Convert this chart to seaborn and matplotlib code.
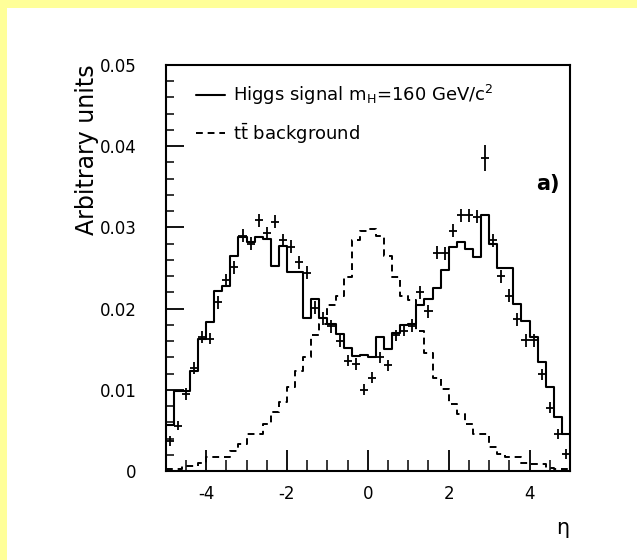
import numpy as np
import pandas as pd
import matplotlib
matplotlib.use("Agg")
import matplotlib.pyplot as plt
import seaborn as sns
from matplotlib.patches import Rectangle
from matplotlib.lines import Line2D
from matplotlib.ticker import MultipleLocator

# ---------------- data ----------------
eta_min, eta_max, n_bins = -5.0, 5.0, 50

signal_hist = [
    0.0057, 0.0099, 0.0099, 0.0123, 0.0163, 0.0183, 0.0222, 0.0228, 0.0265, 0.0288,
    0.0282, 0.0288, 0.0286, 0.0253, 0.0277, 0.0245, 0.0245, 0.0189, 0.0212, 0.0188,
    0.0181, 0.0169, 0.0152, 0.0142, 0.0143, 0.0141, 0.0165, 0.0150, 0.0170, 0.0180,
    0.0181, 0.0205, 0.0212, 0.0225, 0.0247, 0.0276, 0.0282, 0.0273, 0.0264, 0.0315,
    0.0280, 0.0250, 0.0250, 0.0206, 0.0185, 0.0165, 0.0134, 0.0103, 0.0067, 0.0046,
]

background_hist = [
    0.0003, 0.0003, 0.0006, 0.0006, 0.0010, 0.0017, 0.0017, 0.0017, 0.0025, 0.0033,
    0.0046, 0.0046, 0.0058, 0.0073, 0.0085, 0.0103, 0.0123, 0.0140, 0.0167, 0.0181,
    0.0205, 0.0216, 0.0239, 0.0284, 0.0296, 0.0298, 0.0290, 0.0265, 0.0239, 0.0215,
    0.0210, 0.0173, 0.0145, 0.0115, 0.0101, 0.0083, 0.0070, 0.0058, 0.0046, 0.0046,
    0.0029, 0.0021, 0.0017, 0.0017, 0.0010, 0.0009, 0.0009, 0.0004, 0.0002, 0.0002,
]

data_points = [
    0.0037, 0.0056, 0.0095, 0.0127, 0.0165, 0.0163, 0.0208, 0.0235, 0.0251, 0.0290,
    0.0280, 0.0309, 0.0293, 0.0307, 0.0284, 0.0276, 0.0257, 0.0244, 0.0201, 0.0188,
    0.0178, 0.0160, 0.0136, 0.0132, 0.0100, 0.0115, 0.0140, 0.0130, 0.0167, 0.0173,
    0.0179, 0.0220, 0.0197, 0.0269, 0.0268, 0.0296, 0.0315, 0.0315, 0.0313, 0.0385,
    0.0284, 0.0240, 0.0216, 0.0187, 0.0161, 0.0161, 0.0119, 0.0078, 0.0046, 0.0021,
]

data_errors = [
    0.0006, 0.0006, 0.0007, 0.0007, 0.0007, 0.0007, 0.0008, 0.0008, 0.0008, 0.0008,
    0.0008, 0.0008, 0.0008, 0.0008, 0.0008, 0.0008, 0.0008, 0.0008, 0.0008, 0.0008,
    0.0008, 0.0007, 0.0007, 0.0007, 0.0007, 0.0007, 0.0007, 0.0007, 0.0007, 0.0007,
    0.0008, 0.0008, 0.0008, 0.0008, 0.0008, 0.0008, 0.0008, 0.0008, 0.0008, 0.0016,
    0.0008, 0.0008, 0.0008, 0.0008, 0.0008, 0.0008, 0.0007, 0.0007, 0.0006, 0.0006,
]

x_tick_values = [-4, -2, 0, 2, 4]
x_tick_labels = ["-4", "-2", "0", "2", "4"]
y_tick_values = [0, 0.01, 0.02, 0.03, 0.04, 0.05]
y_tick_labels = ["0", "0.01", "0.02", "0.03", "0.04", "0.05"]

legend_labels = ["Higgs signal m$_H$=160 GeV/c$^2$", "t$\\bar{\\mathrm{t}}$ background"]
y_label = "Arbitrary units"
x_label = "η"
panel_tag = "a)"

# ---------------- figure ----------------
sns.set_theme(style="white")
plt.rcParams["font.family"] = ["DejaVu Sans"]
plt.rcParams["mathtext.default"] = "regular"
plt.rcParams["text.color"] = "black"
plt.rcParams["xtick.color"] = "black"
plt.rcParams["ytick.color"] = "black"

W, H = 637, 560
fig = plt.figure(figsize=(W / 100, H / 100), dpi=100, facecolor="#FFFF99")
fig.patches.append(Rectangle((7 / W, 0), 1 - 7 / W, 1 - 8 / H, transform=fig.transFigure,
                             facecolor="white", edgecolor="none", zorder=-10))

ax_l, ax_r, ax_t, ax_b = 165.7, 570.0, 65.0, 471.0
ax = fig.add_axes([ax_l / W, 1 - ax_b / H, (ax_r - ax_l) / W, (ax_b - ax_t) / H])
ax.set_facecolor("none")
ax.set_zorder(5)

edges = np.linspace(eta_min, eta_max, n_bins + 1)
centers = 0.5 * (edges[:-1] + edges[1:])
half_width = 0.5 * (edges[1] - edges[0])
df = pd.DataFrame({"eta": centers, "signal": signal_hist, "background": background_hist,
                   "data": data_points, "err": data_errors})

sns.histplot(data=df, x="eta", weights="signal", bins=n_bins, binrange=(eta_min, eta_max),
             element="step", fill=False, color="black", linewidth=1.5, ax=ax)
sns.histplot(data=df, x="eta", weights="background", bins=n_bins, binrange=(eta_min, eta_max),
             element="step", fill=False, color="black", linewidth=1.4,
             linestyle=(0, (3.5, 2.5)), ax=ax)
ax.errorbar(df["eta"], df["data"], yerr=df["err"], xerr=half_width, fmt="none",
            ecolor="black", elinewidth=1.3, capsize=0)

ax.set_xlim(eta_min, eta_max)
ax.set_ylim(0, 0.05)
ax.set_xlabel("")
ax.set_ylabel("")

ax.set_xticks(x_tick_values)
ax.set_xticklabels(x_tick_labels, fontsize=12)
ax.set_yticks(y_tick_values)
ax.set_yticklabels(y_tick_labels, fontsize=12)
ax.xaxis.set_minor_locator(MultipleLocator(0.5))
ax.yaxis.set_minor_locator(MultipleLocator(0.002))

ax.tick_params(axis="y", which="major", direction="in", length=13, width=1.3, pad=21,
               left=True, right=False, colors="black")
ax.tick_params(axis="y", which="minor", direction="in", length=6, width=1.1,
               left=True, right=False)
ax.tick_params(axis="x", which="major", direction="in", length=15, width=1.3, pad=10,
               bottom=True, top=False, colors="black")
ax.tick_params(axis="x", which="minor", direction="in", length=8, width=1.1,
               bottom=True, top=False)

for side, sp in ax.spines.items():
    sp.set_visible(True)
    sp.set_color("black")
    sp.set_linewidth(1.5)

handles = [Line2D([], [], color="black", linewidth=1.5),
           Line2D([], [], color="black", linewidth=1.4, linestyle=(0, (3.5, 2.5)))]
ax.legend(handles, legend_labels, loc="upper left", bbox_to_anchor=(0.075, 0.955),
          frameon=False, fontsize=13, handlelength=1.6, handletextpad=0.45,
          labelspacing=0.75, borderpad=0, borderaxespad=0)

ax.text(0.946, 0.707, panel_tag, transform=ax.transAxes, fontsize=15, fontweight="bold",
        ha="center", va="center")

fig.text(87 / W, 1 - 64 / H, y_label, rotation=90, ha="center", va="top", fontsize=17)
fig.text(563 / W, 1 - 528 / H, x_label, ha="center", va="center", fontsize=15)

fig.savefig("out.png", dpi=100, facecolor=fig.get_facecolor())
